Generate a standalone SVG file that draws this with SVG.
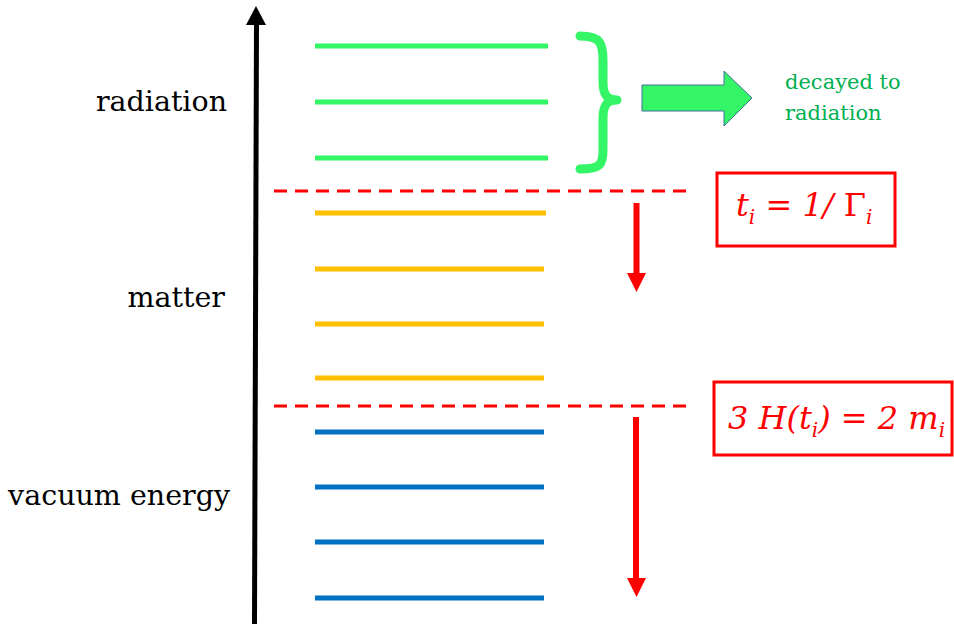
<svg xmlns="http://www.w3.org/2000/svg" width="954" height="624" viewBox="0 0 954 624">
<style>
.lbl{font-family:"DejaVu Serif","Liberation Serif",serif;font-size:28.5px;fill:#000}
.g{stroke:#33F566;stroke-width:5}
.o{stroke:#FFC000;stroke-width:5}
.b{stroke:#0070C0;stroke-width:5}
.dash{stroke:#FF0000;stroke-width:3;stroke-dasharray:13 8;fill:none}
.box{fill:none;stroke:#FF0000;stroke-width:3}
.eq{font-family:"DejaVu Serif","Liberation Serif",serif;font-style:italic;font-size:32px;fill:#FF0000}
.note{font-family:"DejaVu Serif","Liberation Serif",serif;font-size:21px;fill:#00B050}
</style>
<rect width="954" height="624" fill="#fff"/>
<g id="axis">
<line x1="254.5" y1="624" x2="256.5" y2="22" stroke="#000" stroke-width="5"/>
<polygon points="256,6 246,25 266,25" fill="#000"/>
</g>
<g id="radiation">
<text class="lbl" x="227" y="111" text-anchor="end">radiation</text>
<line class="g" x1="315" y1="46" x2="548" y2="46"/>
<line class="g" x1="315" y1="102" x2="548" y2="102"/>
<line class="g" x1="315" y1="158" x2="548" y2="158"/>
</g>
<g id="matter">
<text class="lbl" x="225" y="307" text-anchor="end">matter</text>
<line class="o" x1="315" y1="213" x2="546" y2="213"/>
<line class="o" x1="315" y1="269" x2="544" y2="269"/>
<line class="o" x1="315" y1="324" x2="544" y2="324"/>
<line class="o" x1="315" y1="378" x2="544" y2="378"/>
</g>
<g id="vacuum">
<text class="lbl" x="230" y="505" text-anchor="end">vacuum energy</text>
<line class="b" x1="315" y1="432" x2="544" y2="432"/>
<line class="b" x1="315" y1="487" x2="544" y2="487"/>
<line class="b" x1="315" y1="542" x2="544" y2="542"/>
<line class="b" x1="315" y1="598" x2="544" y2="598"/>
</g>
<g id="brace">
<path d="M580,36 C600,36 603,43 603,60 L603,82 C603,95 607,100 617,100 C607,100 603,105 603,118 L603,150 C603,165 600,169 580,169" fill="none" stroke="#33F566" stroke-width="9" stroke-linecap="round" stroke-linejoin="round"/>
</g>
<g id="decay-arrow">
<polygon points="642,85 724,85 724,71 752,98 724,126 724,111 642,111" fill="#33F566" stroke="#41719C" stroke-width="1"/>
</g>
<g id="decay-note">
<text class="note" x="785" y="89">decayed to</text>
<text class="note" x="785" y="120">radiation</text>
</g>
<g id="connectors">
<line class="dash" x1="274" y1="191" x2="694" y2="191"/>
<line class="dash" x1="274" y1="406" x2="694" y2="406"/>
<line x1="636.5" y1="203" x2="636.5" y2="276" stroke="#FF0000" stroke-width="6"/>
<polygon points="627,273 646,273 636.5,292" fill="#FF0000"/>
<line x1="636" y1="417" x2="636" y2="580" stroke="#FF0000" stroke-width="6"/>
<polygon points="627,578 646,578 636.5,597" fill="#FF0000"/>
</g>
<g id="eq1">
<rect class="box" x="717" y="173" width="178" height="73"/>
<text class="eq" x="736" y="216">t<tspan font-size="20" dy="8">i</tspan><tspan dy="-8"> = 1/ </tspan><tspan font-style="normal">Γ</tspan><tspan font-size="20" dy="8">i</tspan></text>
</g>
<g id="eq2">
<rect class="box" x="714" y="382" width="238" height="73"/>
<text class="eq" x="728" y="429">3 H(t<tspan font-size="20" dy="8">i</tspan><tspan dy="-8">) = 2 m</tspan><tspan font-size="20" dy="8">i</tspan></text>
</g>
</svg>
